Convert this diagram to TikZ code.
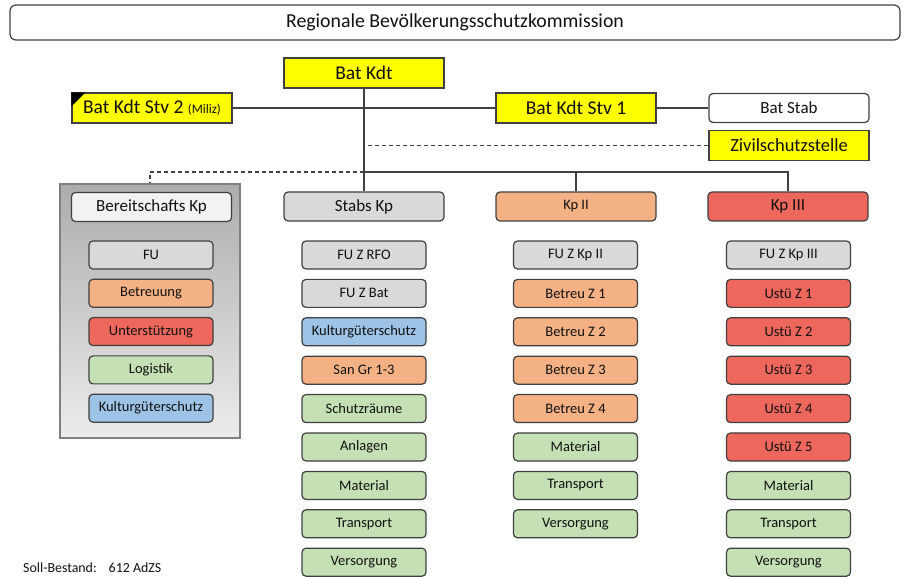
\documentclass[tikz,border=0pt]{standalone}
\usepackage{fontspec}
\setmainfont{Carlito}
\definecolor{cyel}{HTML}{FFFF00}
\definecolor{cgray}{HTML}{D9D9D9}
\definecolor{cwhite}{HTML}{F2F2F2}
\definecolor{corange}{HTML}{F4B183}
\definecolor{cred}{HTML}{EE675C}
\definecolor{cgreen}{HTML}{C5E0B4}
\definecolor{cblue}{HTML}{9DC3E6}
\definecolor{cline}{HTML}{404040}
\definecolor{cframe}{HTML}{808080}
\definecolor{ctext}{HTML}{111111}
\begin{document}
\begin{tikzpicture}[x=1pt,y=-1pt,
  base/.style={draw=cline, line width=1.2pt, text=ctext, inner sep=0pt, align=center},
  ybox/.style={base, fill=cyel, minimum width=160pt, minimum height=30pt, font=\fontsize{19.5}{22}\selectfont},
  hbox/.style={base, rounded corners=4pt, minimum width=160pt, minimum height=29pt, font=\fontsize{17}{20}\selectfont},
  sbox/.style={base, rounded corners=4pt, minimum width=124pt, minimum height=28pt, font=\fontsize{14.5}{17}\selectfont},
  conn/.style={draw=cline, line width=1.2pt},
  dconn/.style={conn, dash pattern=on 4pt off 3pt},
]
\useasboundingbox (0,0) rectangle (903,577);

% title
\node[base, rounded corners=6pt, minimum width=890pt, minimum height=35pt, font=\fontsize{19.8}{22}\selectfont] (title) at (455,22.5) {Regionale Bevölkerungsschutzkommission};

% command
\node[ybox] (kdt) at (364,73) {Bat Kdt};
\node[ybox] (stv2) at (152,108) {Bat Kdt Stv 2 {\fontsize{13}{15}\selectfont(Miliz)}};
\fill[black] (stv2.north west) -- ++(14,0) -- ++(-14,14) -- cycle;
\node[ybox] (stv1) at (576,108) {Bat Kdt Stv 1};
\node[hbox, fill=white] (stab) at (789,108) {Bat Stab};
\node[ybox, font=\fontsize{18.5}{21}\selectfont] (zss) at (789,145.5) {Zivilschutzstelle};

% Bereitschafts container
\node[draw=cframe, line width=1.2pt, top color={rgb,255:red,172;green,172;blue,172}, bottom color={rgb,255:red,236;green,236;blue,236}, minimum width=180pt, minimum height=254pt, inner sep=0pt] (bcont) at (150,311) {};

% company headers
\node[hbox, fill=cwhite] (bkp) at (151.5,207) {Bereitschafts Kp};
\node[hbox, fill=cgray] (stabs) at (364,206.5) {Stabs Kp};
\node[hbox, fill=corange, font=\fontsize{14.5}{17}\selectfont] (kp2) at (576,206.5) {Kp II};
\node[hbox, fill=cred] (kp3) at (788,206.5) {Kp III};

% connectors
\coordinate (j) at (364,172);
\draw[conn] (stv2.east) -- (stv1.west);
\draw[conn] (stv1.east) -- (stab.west);
\draw[conn] (kdt.south) -- (stabs.north);
\draw[dconn] (zss.west) -- (zss.west -| kdt.south);
\draw[conn] (j) -| (kp3.north);
\draw[conn] (kp2.north) -- (kp2.north |- j);
\draw[dconn] (j) -| (bcont.north);

% sub units
\foreach [count=\i] \c/\t in {cgray/FU, corange/Betreuung, cred/Unterstützung, cgreen/Logistik, cblue/Kulturgüterschutz}
  \node[sbox, fill=\c] (b\i) at (151, {255+38.3*(\i-1)}) {\t};
\foreach [count=\i] \c/\t in {cgray/FU Z RFO, cgray/FU Z Bat, cblue/Kulturgüterschutz, corange/San Gr 1-3, cgreen/Schutzräume, cgreen/Anlagen, cgreen/Material, cgreen/Transport, cgreen/Versorgung}
  \node[sbox, fill=\c] (s\i) at (364, {255+38.4*(\i-1)}) {\t};
\foreach [count=\i] \c/\t in {cgray/FU Z Kp II, corange/Betreu Z 1, corange/Betreu Z 2, corange/Betreu Z 3, corange/Betreu Z 4, cgreen/Material, cgreen/Transport, cgreen/Versorgung}
  \node[sbox, fill=\c] (k\i) at (575.5, {255+38.4*(\i-1)}) {\t};
\foreach [count=\i] \c/\t in {cgray/FU Z Kp III, cred/Ustü Z 1, cred/Ustü Z 2, cred/Ustü Z 3, cred/Ustü Z 4, cred/Ustü Z 5, cgreen/Material, cgreen/Transport, cgreen/Versorgung}
  \node[sbox, fill=\c] (m\i) at (788.5, {255+38.4*(\i-1)}) {\t};

% footnote
\node[anchor=west, inner sep=0pt, text=ctext, font=\fontsize{13.9}{16}\selectfont] (soll) at (23,568) {Soll-Bestand:\hspace{12pt}612 AdZS};
\end{tikzpicture}
\end{document}
